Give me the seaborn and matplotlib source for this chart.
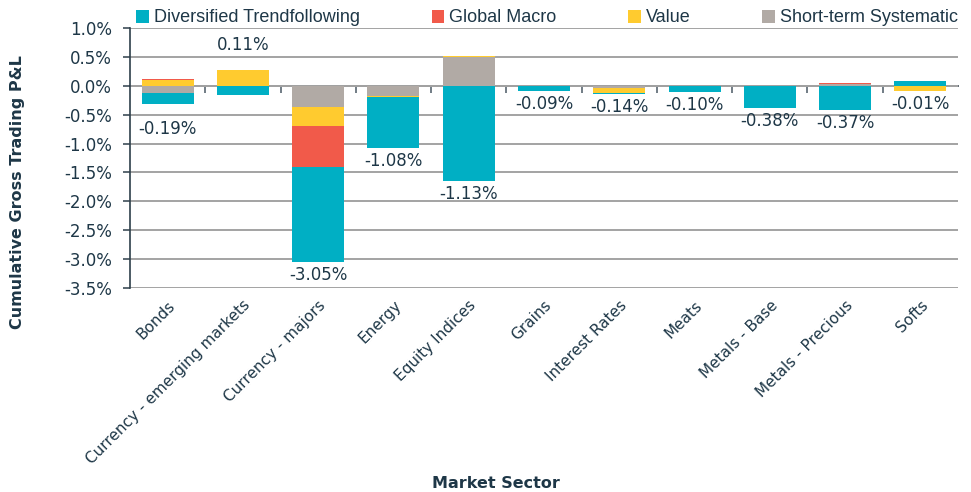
import matplotlib
matplotlib.use("Agg")
import matplotlib.pyplot as plt
import numpy as np
import pandas as pd
import seaborn as sns
from matplotlib.patches import Patch
from matplotlib.ticker import FuncFormatter, MultipleLocator

# Market sectors and per-strategy contributions (% cumulative gross P&L)
sectors = ["Bonds", "Currency - emerging markets", "Currency - majors", "Energy",
           "Equity Indices", "Grains", "Interest Rates", "Meats", "Metals - Base",
           "Metals - Precious", "Softs"]
trend = [-0.18, -0.16, -1.65, -0.88, -1.65, -0.09, -0.02, -0.10, -0.38, -0.42, 0.08]
macro = [0.02, 0.00, -0.70, 0.00, 0.00, 0.00, 0.00, 0.00, 0.00, 0.02, 0.00]
value = [0.10, 0.27, -0.33, -0.03, 0.02, 0.00, -0.09, 0.00, 0.00, 0.00, -0.09]
short_term = [-0.13, 0.00, -0.37, -0.17, 0.50, 0.00, -0.03, 0.00, 0.00, 0.03, 0.00]
totals = [-0.19, 0.11, -3.05, -1.08, -1.13, -0.09, -0.14, -0.10, -0.38, -0.37, -0.01]

series_names = ["Diversified Trendfollowing", "Global Macro", "Value", "Short-term Systematic"]
colors = {"Diversified Trendfollowing": "#00AFC4", "Global Macro": "#F15A4A",
          "Value": "#FFCB2F", "Short-term Systematic": "#B1AAA5"}
TEXT = "#1E3747"

sns.set_theme(style="white")
plt.rcParams["font.family"] = ["DejaVu Sans"]
plt.rcParams["text.color"] = TEXT

df = pd.DataFrame({"sector": sectors, "Diversified Trendfollowing": trend,
                   "Global Macro": macro, "Value": value, "Short-term Systematic": short_term})

fig = plt.figure(figsize=(9.71, 4.92), dpi=100)
ax = fig.add_axes([130 / 971, 1 - 288 / 492, 828 / 971, 260 / 492])

# Excel-style stacking: positives up, negatives down, short-term nearest zero
pos_base = np.zeros(len(sectors))
neg_base = np.zeros(len(sectors))
for name in ["Short-term Systematic", "Value", "Global Macro", "Diversified Trendfollowing"]:
    vals = df[name].to_numpy()
    bottoms = np.where(vals >= 0, pos_base, neg_base)
    sns.barplot(x=df["sector"], y=vals, bottom=bottoms, color=colors[name],
                width=0.69, errorbar=None, ax=ax, order=sectors,
                linewidth=0, saturation=1)
    pos_base += np.clip(vals, 0, None)
    neg_base += np.clip(vals, None, 0)

# total labels
for i, tot in enumerate(totals):
    if tot >= 0:
        ax.annotate(f"{tot:.2f}%", (i, pos_base[i]), xytext=(0, 12), textcoords="offset points",
                    ha="center", va="bottom", fontsize=12, color=TEXT)
    else:
        gap = -12 if sectors[i] == "Bonds" else -3
        ax.annotate(f"{tot:.2f}%", (i, neg_base[i]), xytext=(0, gap), textcoords="offset points",
                    ha="center", va="top", fontsize=12, color=TEXT)

ax.set_ylim(-3.5, 1.0)
ax.set_xlim(-0.5, len(sectors) - 0.5)
ax.yaxis.set_major_locator(MultipleLocator(0.5))
ax.yaxis.set_major_formatter(FuncFormatter(lambda v, _: f"{v:.1f}%"))
ax.grid(axis="y", color="#A3A3A3", linewidth=1.4)
ax.set_axisbelow(True)
for s in ["top", "right", "bottom"]:
    ax.spines[s].set_visible(False)
ax.spines["left"].set_color("#2E3F4A")
ax.spines["left"].set_linewidth(1.2)
ax.tick_params(axis="y", which="major", direction="out", length=5, width=1.1,
               color="#2E3F4A", labelsize=12, labelcolor=TEXT, left=True, pad=8)
ax.tick_params(axis="x", length=0, labelsize=11, labelcolor=TEXT, pad=7)
plt.setp(ax.get_xticklabels(), rotation=45, ha="right", rotation_mode="anchor")
ax.set_xlabel("")
ax.set_ylabel("")

# zero line with category boundary ticks
zero = ax.secondary_xaxis(0, transform=ax.transData)
zero.set_xticks(np.arange(len(sectors) - 1) + 0.5)
zero.set_xticklabels([])
zero.tick_params(direction="out", length=5, width=1.1, color="#4A5964")
zero.spines["bottom"].set_color("#5E6A73")
zero.spines["bottom"].set_linewidth(1.4)

handles = [Patch(facecolor=colors[n], edgecolor="none", label=n) for n in series_names]
fig.legend(handles=handles, loc="center", bbox_to_anchor=(547 / 971, 1 - 18 / 492), ncol=4,
           frameon=False, handlelength=0.7, handleheight=0.7, handletextpad=0.25,
           columnspacing=4.0, prop={"family": "Liberation Sans", "size": 13})

fig.text(18 / 971, 1 - 192 / 492, "Cumulative Gross Trading P&L", rotation=90, ha="center",
         va="center", fontsize=11.5, fontweight="bold", color=TEXT)
fig.text(496 / 971, 1 - 484 / 492, "Market Sector", ha="center", va="center",
         fontsize=11.5, fontweight="bold", color=TEXT)

fig.savefig("out.png", dpi=100)
